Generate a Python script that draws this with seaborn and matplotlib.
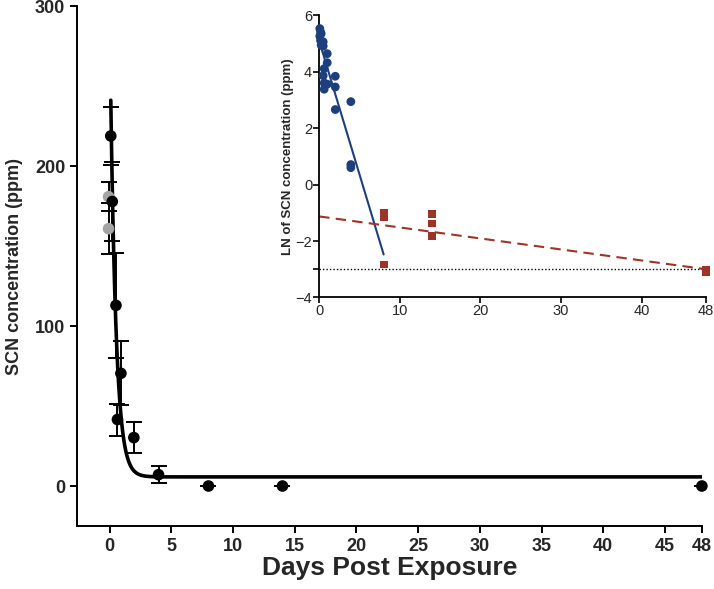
import numpy as np
import matplotlib
matplotlib.use("Agg")
import matplotlib.pyplot as plt
import seaborn as sns

# main panel: mean SCN (ppm) with SD, by day
days = [0.08, 0.2, 0.5, 0.62, 0.9, 1.95, 3.95, 8, 14, 48]
scn_mean = [219, 178, 113, 41.6, 70.5, 30.3, 7.1, 0, 0, 0]
scn_sd = [18, 25, 33, 10, 20, 9.5, 5.2, 0, 0, 0]
gray_days = [-0.1, -0.1]
gray_mean = [181, 161]
gray_sd = [9, 16]
# one-phase decay fit: plateau + span * exp(-k * t)
fit_plateau = 5.7
fit_span = 281
fit_k = 2.2
fit_start = 0.08

# inset: LN of SCN concentration
blue_days = [0.08, 0.08, 0.17, 0.17, 0.25, 0.25, 0.5, 0.5, 1, 1, 0.62,
             0.5, 2, 0.62, 1, 0.62, 2, 2, 3.93, 3.93, 3.93]
blue_ln = [5.53, 5.26, 5.41, 5.11, 5.35, 4.94, 5.06, 4.91, 4.64, 4.32, 4.11,
           3.86, 3.84, 3.60, 3.56, 3.38, 3.46, 2.66, 2.94, 0.71, 0.60]
red_days = [8, 8, 8, 14, 14, 14, 48, 48]
red_ln = [-1.0, -1.15, -2.83, -1.05, -1.38, -1.82, -3.03, -3.09]
blue_line_end = 8
red_line_end = 48
limit_ln = -3

main_xticks = [0, 5, 10, 15, 20, 25, 30, 35, 40, 45, 48]
inset_xticks = [0, 10, 20, 30, 40, 48]

sns.set_style("ticks")
plt.rcParams["font.family"] = ["Liberation Sans", "DejaVu Sans"]

blue = "#1e3f7e"
red = "#9c3528"

fig = plt.figure(figsize=(7.14, 5.89), dpi=100)
ax = fig.add_axes([0.108, 0.107, 0.875, 0.882])

# fitted curve
t = np.linspace(fit_start, 48, 600)
curve = fit_plateau + fit_span * np.exp(-fit_k * t)
sns.lineplot(x=t, y=curve, ax=ax, color="black", lw=2.6, zorder=2)

ax.errorbar(gray_days, gray_mean, yerr=gray_sd, fmt="none", ecolor="black",
            elinewidth=1.4, capsize=6, capthick=1.4, zorder=3)
ax.errorbar(days, scn_mean, yerr=scn_sd, fmt="none", ecolor="black",
            elinewidth=1.4, capsize=6, capthick=1.4, zorder=3)
sns.scatterplot(x=gray_days, y=gray_mean, ax=ax, color="#a3a3a3", s=70,
                edgecolor="none", zorder=4)
sns.scatterplot(x=days, y=scn_mean, ax=ax, color="black", s=70,
                edgecolor="none", zorder=5, clip_on=False)

ax.set_xlim(-2.65, 48)
ax.set_ylim(-25, 300)
ax.set_xticks(main_xticks)
ax.set_yticks([0, 100, 200, 300])
ax.tick_params(width=1.4, length=5, labelsize=13, color="black")
for lab in ax.get_xticklabels() + ax.get_yticklabels():
    lab.set_fontweight("bold")
ax.set_xlabel("Days Post Exposure", fontsize=19, fontweight="bold", labelpad=1)
ax.set_ylabel("SCN concentration (ppm)", fontsize=13, fontweight="bold", labelpad=9)
sns.despine(ax=ax)
for s in ["left", "bottom"]:
    ax.spines[s].set_linewidth(1.4)
    ax.spines[s].set_color("black")

# inset
ins = fig.add_axes([0.447, 0.495, 0.542, 0.479])
ins.set_xlim(0, 48)
ins.set_ylim(-4, 6)
ins.axhline(limit_ln, color="black", lw=1, ls=(0, (1, 1.5)), zorder=1)

b_slope, b_int = np.polyfit(blue_days, blue_ln, 1)
r_slope, r_int = np.polyfit(red_days, red_ln, 1)
bx = np.array([0, blue_line_end])
rx = np.array([0, red_line_end])
sns.lineplot(x=bx, y=b_int + b_slope * bx, ax=ins, color=blue, lw=1.5, zorder=2)
sns.lineplot(x=rx, y=r_int + r_slope * rx, ax=ins, color=red, lw=1.5,
             zorder=2).lines[-1].set_linestyle((0, (5, 3)))
sns.scatterplot(x=blue_days, y=blue_ln, ax=ins, color=blue, s=40,
                edgecolor="none", zorder=3, clip_on=False)
sns.scatterplot(x=red_days, y=red_ln, ax=ins, color=red, s=32, marker="s",
                edgecolor="none", zorder=3, clip_on=False)

ins.set_xticks(inset_xticks)
ins.set_yticks([-4, -2, 0, 2, 4, 6])
ins.set_yticks([limit_ln], minor=True)
ins.tick_params(width=1.2, length=4, labelsize=10.5, pad=1, color="black")
ins.tick_params(which="minor", width=1.2, length=4, color="black")
ins.set_ylabel("LN of SCN concentration (ppm)", fontsize=9.5, fontweight="bold",
               labelpad=1)
sns.despine(ax=ins)
for s in ["left", "bottom"]:
    ins.spines[s].set_linewidth(1.3)
    ins.spines[s].set_color("black")
ins.patch.set_alpha(0)

fig.savefig("out.png", dpi=100)
